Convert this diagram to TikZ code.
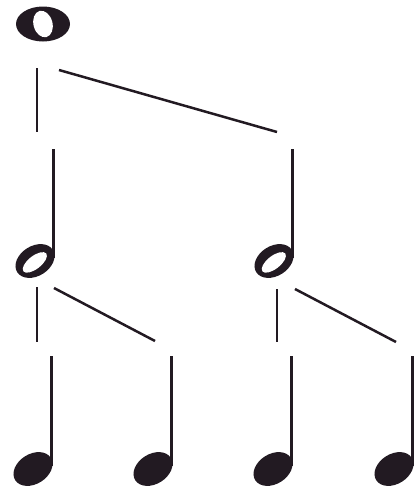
\documentclass[tikz,border=0pt]{standalone}
\definecolor{notecol}{RGB}{34,26,34}
\tikzset{
  conn/.style={line width=2.5pt, draw=notecol},
  stemline/.style={line width=3.2pt, draw=notecol},
  headfill/.style={fill=notecol},
  holefill/.style={fill=white},
  quarternote/.pic={
    \fill[headfill, rotate=32] (0,0) ellipse [x radius=21pt, y radius=15pt];
    \draw[stemline] (18.5pt,3pt) -- (18.5pt,113pt);
  },
  halfnote/.pic={
    \fill[headfill, rotate=32] (0,0) ellipse [x radius=21pt, y radius=15pt];
    \fill[holefill, rotate=38] (-1pt,-1pt) ellipse [x radius=14.5pt, y radius=6.5pt];
    \draw[stemline] (18.5pt,3pt) -- (18.5pt,112pt);
  },
  wholenote/.pic={
    \fill[headfill] (0,0) ellipse [x radius=27pt, y radius=17.5pt];
    \fill[holefill, rotate=15] (0,0) ellipse [x radius=9.5pt, y radius=13.5pt];
  }
}
\begin{document}
\begin{tikzpicture}[x=1pt,y=-1pt]
\useasboundingbox (0,0) rectangle (420,488);
% notes
\pic (W) at (43,24) {wholenote};
\pic (H1) at (35,261) {halfnote};
\pic (H2) at (274,261) {halfnote};
\pic (Q1) at (33,469) {quarternote};
\pic (Q2) at (153,469) {quarternote};
\pic (Q3) at (273,469) {quarternote};
\pic (Q4) at (394,469) {quarternote};
% connector ends
\coordinate (Wv1) at (37,68);  \coordinate (Wv2) at (37,132);
\coordinate (Wd1) at (59,70);  \coordinate (Wd2) at (277,132);
\coordinate (H1v1) at (37,287); \coordinate (H1v2) at (37,342);
\coordinate (H1d1) at (54,288); \coordinate (H1d2) at (155,341);
\coordinate (H2v1) at (277,289); \coordinate (H2v2) at (277,342);
\coordinate (H2d1) at (295,289); \coordinate (H2d2) at (396,342);
% connectors
\draw[conn] (Wv1) -- (Wv2);
\draw[conn] (Wd1) -- (Wd2);
\draw[conn] (H1v1) -- (H1v2);
\draw[conn] (H1d1) -- (H1d2);
\draw[conn] (H2v1) -- (H2v2);
\draw[conn] (H2d1) -- (H2d2);
\end{tikzpicture}
\end{document}
